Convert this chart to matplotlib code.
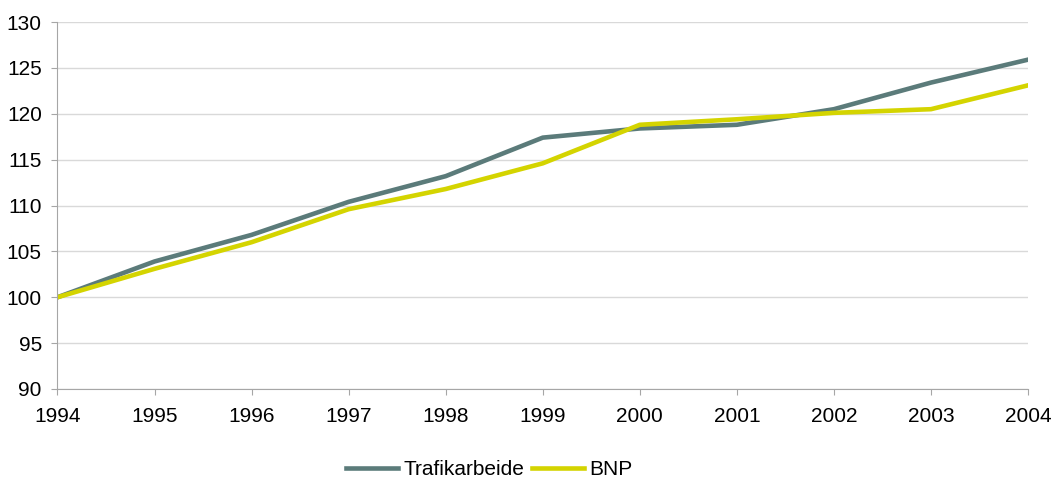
import matplotlib.pyplot as plt
import numpy as np

plt.rcParams['font.family'] = ['Liberation Sans', 'DejaVu Sans']

years = [1994, 1995, 1996, 1997, 1998, 1999, 2000, 2001, 2002, 2003, 2004]
trafikarbeide = [100, 103.9, 106.8, 110.4, 113.2, 117.4, 118.4, 118.8, 120.5, 123.4, 125.9]
bnp = [100, 103.1, 106.0, 109.6, 111.8, 114.6, 118.8, 119.4, 120.1, 120.5, 123.1]

fig = plt.figure(figsize=(10.53, 4.79), dpi=100)
ax = fig.add_axes([0.0546, 0.1879, 0.9217, 0.7661])

ax.plot(years, trafikarbeide, color='#5B7B7A', lw=3.3, label='Trafikarbeide', solid_joinstyle='round')
ax.plot(years, bnp, color='#D4D400', lw=3.3, label='BNP', solid_joinstyle='round')

ax.set_xlim(1994, 2004)
ax.set_ylim(90, 130)
ax.set_xticks(years)
ax.set_yticks(np.arange(90, 131, 5))
ax.grid(axis='y', color='#D9D9D9', lw=1)
ax.set_axisbelow(True)

for s in ['top', 'right']:
    ax.spines[s].set_visible(False)
for s in ['left', 'bottom']:
    ax.spines[s].set_color('#A6A6A6')
ax.tick_params(axis='both', colors='#A6A6A6', labelcolor='black', labelsize=15, length=4.3)
ax.tick_params(axis='x', pad=9)
ax.tick_params(axis='y', pad=7)

ax.legend(loc='center', bbox_to_anchor=(0.445, -0.22), ncol=2, frameon=False,
          fontsize=15, handlelength=2.5, columnspacing=0.4, handletextpad=0.25)

fig.savefig('out.png', dpi=100)
